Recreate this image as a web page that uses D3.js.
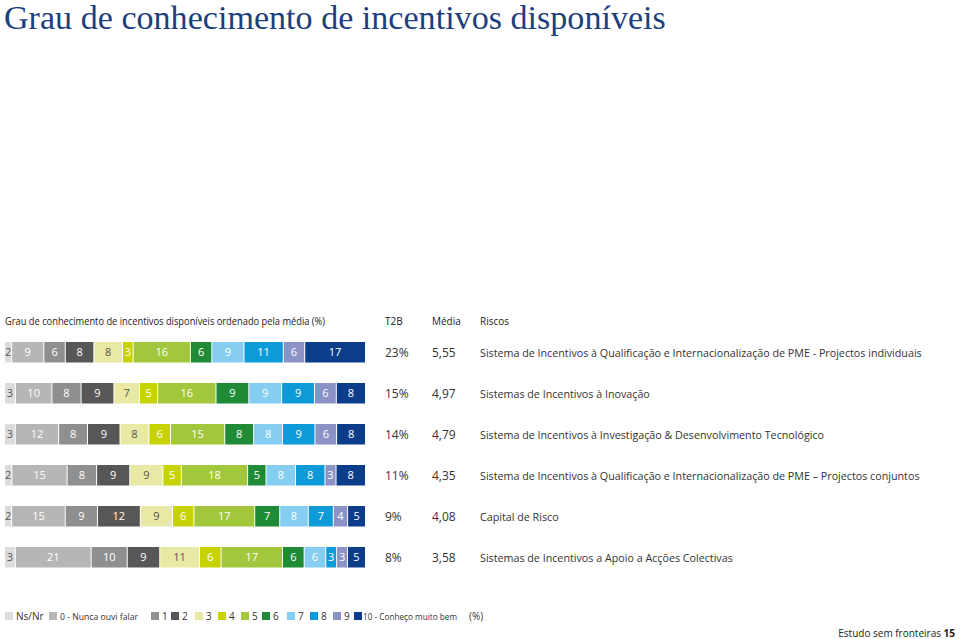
<!DOCTYPE html>
<html><head><meta charset="utf-8">
<script src="https://cdn.jsdelivr.net/npm/d3@7"></script>
<style>body{margin:0;background:#fff}svg{display:block}</style>
</head><body>
<svg id="c" width="960" height="639"></svg>
<script>
const title = "Grau de conhecimento de incentivos disponíveis";
const header = "Grau de conhecimento de incentivos disponíveis ordenado pela média (%)";
const colHeaders = ["T2B", "Média", "Riscos"];
const keys = ["Ns/Nr","0","1","2","3","4","5","6","7","8","9","10"];
const legendLabels = ["Ns/Nr","0 - Nunca ouvi falar","1","2","3","4","5","6","7","8","9","10 - Conheço muito bem"];
const colors = ["#dcdcdc","#b6b6b6","#8f8f8f","#575757","#e8e9a4","#c6d300","#a2c63c","#1f8b36","#86cdf2","#0d9ad9","#8b93c6","#0c3d8a"];
const textColors = ["#555","#fff","#fff","#fff","#555","#fff","#fff","#fff","#fff","#fff","#fff","#fff"];
const riscos = [
 "Sistema de Incentivos à Qualificação e Internacionalização de PME - Projectos individuais",
 "Sistemas de Incentivos à Inovação",
 "Sistema de Incentivos à Investigação & Desenvolvimento Tecnológico",
 "Sistema de Incentivos à Qualificação e Internacionalização de PME – Projectos conjuntos",
 "Capital de Risco",
 "Sistemas de Incentivos a Apoio a Acções Colectivas"
];
const t2b = ["23%","15%","14%","11%","9%","8%"];
const media = ["5,55","4,97","4,79","4,35","4,08","3,58"];
const values = [
 [2,9,6,8,8,3,16,6,9,11,6,17],
 [3,10,8,9,7,5,16,9,9,9,6,8],
 [3,12,8,9,8,6,15,8,8,9,6,8],
 [2,15,8,9,9,5,18,5,8,8,3,8],
 [2,15,9,12,9,6,17,7,8,7,4,5],
 [3,21,10,9,11,6,17,6,6,3,3,5]
];
const footer = "Estudo sem fronteiras";
const pageNum = "15";

const svg = d3.select("#c");
const sans = "'Open Sans', 'Noto Sans', sans-serif";

// title
const t = svg.append("text").attr("x",4).attr("y",29)
  .attr("font-family","'Liberation Serif', serif").attr("font-size",32)
  .attr("fill","#1d3f7e").text(title);
const tw = t.node().getComputedTextLength();
t.attr("font-size", 32*662/tw);

// header
svg.append("text").attr("x",5).attr("y",325).attr("font-family",sans).attr("font-size",10.5)
  .attr("fill","#222").attr("textLength",320).attr("lengthAdjust","spacingAndGlyphs").text(header);
const colX = [385, 432, 480];
colHeaders.forEach((h,i)=>svg.append("text").attr("x",colX[i]).attr("y",325)
  .attr("font-family",sans).attr("font-size",10).attr("fill","#222").text(h));

const data = values.map((v,i)=>{const o={row:i}; keys.forEach((k,j)=>o[k]=v[j]); return o;});
const stack = d3.stack().keys(keys).offset(d3.stackOffsetExpand);
const series = stack(data);

const x = d3.scaleLinear().domain([0,1]).range([5,366]);
const y = d3.scaleBand().domain(d3.range(values.length)).range([342,567.5]).paddingInner(0.5).paddingOuter(0);

const g = svg.append("g");
series.forEach((s,ki)=>{
  const gg = g.append("g");
  gg.selectAll("rect").data(s).join("rect")
    .attr("x",d=>x(d[0])).attr("y",(d,i)=>y(i))
    .attr("width",d=>Math.max(0,x(d[1])-x(d[0])-1)).attr("height",y.bandwidth())
    .attr("fill",colors[ki]);
  gg.selectAll("text").data(s).join("text")
    .attr("x",d=>(x(d[0])+x(d[1])-1)/2).attr("y",(d,i)=>y(i)+y.bandwidth()/2+4)
    .attr("text-anchor","middle").attr("font-family",sans).attr("font-size",11)
    .attr("fill",textColors[ki]).text((d,i)=>values[i][ki]);
});

let lblScale = 1;
values.forEach((v,i)=>{
  const cy = y(i)+y.bandwidth()/2+4.5;
  svg.append("text").attr("x",colX[0]).attr("y",cy).attr("font-family",sans).attr("font-size",12).attr("fill","#333").text(t2b[i]);
  svg.append("text").attr("x",colX[1]).attr("y",cy).attr("font-family",sans).attr("font-size",12).attr("fill","#333").text(media[i]);
  const lt = svg.append("text").attr("class","risco").attr("x",colX[2]).attr("y",cy).attr("font-family",sans).attr("font-size",11.5).attr("fill","#333").text(riscos[i]);
  if(i===0){ lblScale = 442/lt.node().getComputedTextLength(); }
});
svg.selectAll("text.risco").attr("font-size",11.5*lblScale);

// legend
const legX = [5,49,151,171,195,218,241,262,287,310,333,354];
const legW = {1:78, 11:94};
const lg = svg.append("g");
legendLabels.forEach((l,i)=>{
  lg.append("rect").attr("x",legX[i]).attr("y",612).attr("width",8).attr("height",8).attr("fill",colors[i]);
  const tt = lg.append("text").attr("x",legX[i]+(i===11?9:11)).attr("y",620).attr("font-family",sans).attr("font-size",legW[i]?9:10).attr("fill","#333").text(l);
  if(legW[i]) tt.attr("textLength",legW[i]).attr("lengthAdjust","spacingAndGlyphs");
});
lg.append("text").attr("x",469).attr("y",620).attr("font-family",sans).attr("font-size",10).attr("fill","#333").text("(%)");

// footer
const ft = svg.append("text").attr("x",955).attr("y",637).attr("text-anchor","end").attr("font-family",sans).attr("font-size",10).attr("fill","#222");
ft.append("tspan").text(footer+"  ");
ft.append("tspan").attr("font-weight","bold").text(pageNum);
</script>
</body></html>
